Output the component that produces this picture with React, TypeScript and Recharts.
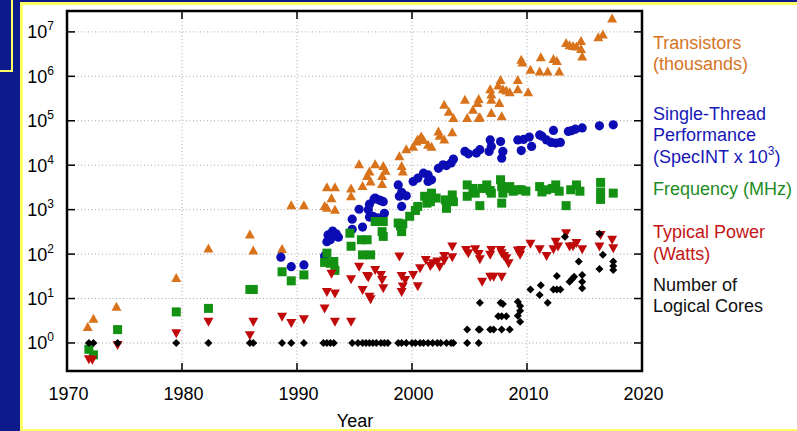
import React from 'react';
import { ScatterChart, Scatter, XAxis, YAxis, CartesianGrid, ReferenceArea } from 'recharts';

// ---- Data: [year, value] ----
const transistors: [number, number][] = [
  [1971.8, 2.3], [1972.3, 3.5], [1974.3, 6.5], [1979.5, 29], [1982.3, 134], [1985.9, 275], [1986.2, 120],
  [1988.7, 130], [1989.5, 1250], [1990.6, 1250], [1992.4, 1200], [1992.6, 1100], [1992.6, 3200], [1993.0, 1800],
  [1993.3, 3200], [1993.3, 1000], [1994.7, 3000], [1994.7, 2000], [1995.4, 10500], [1995.7, 3400], [1996.1, 5700],
  [1996.3, 7200], [1996.4, 4300], [1996.8, 10500], [1997.4, 5700], [1997.4, 3800], [1997.5, 9600], [1997.7, 7500],
  [1998.9, 16000], [1999.1, 9600], [1999.2, 7200], [1999.5, 23000], [2000.1, 26000], [2000.4, 34000], [2000.5, 38000],
  [2000.8, 44000], [2001.0, 37000], [2001.4, 29000], [2001.7, 26000], [2002.3, 57000], [2002.4, 46000], [2002.8, 38000],
  [2003.5, 55000], [2002.8, 230000], [2003.2, 160000], [2003.6, 115000], [2004.6, 296000], [2004.8, 115000],
  [2005.3, 178000], [2005.7, 250000], [2005.8, 310000], [2005.8, 115000], [2005.9, 120000], [2006.8, 510000],
  [2006.9, 390000], [2006.9, 296000], [2006.9, 150000], [2007.5, 620000], [2007.6, 250000], [2007.7, 830000],
  [2007.8, 126000], [2007.9, 510000], [2008.2, 480000], [2008.5, 440000], [2009.2, 830000], [2009.2, 510000],
  [2009.5, 2350000], [2009.6, 2050000], [2010.1, 440000], [2010.3, 1400000], [2011.1, 1290000], [2011.2, 2700000],
  [2011.8, 1290000], [2012.3, 2450000], [2012.6, 2200000], [2012.8, 1290000], [2013.4, 5600000], [2013.7, 5000000],
  [2014.0, 4800000], [2014.3, 4700000], [2014.7, 6200000], [2014.7, 4100000], [2014.8, 2800000], [2016.2, 7600000],
  [2016.6, 8700000], [2017.4, 20000000],
];

const singleThread: [number, number][] = [
  [1988.6, 85], [1989.5, 52], [1990.6, 57], [1992.4, 91], [1992.6, 190], [1992.7, 270], [1992.9, 210], [1993.1, 330],
  [1993.4, 285], [1993.6, 240], [1994.8, 610], [1994.8, 360], [1995.4, 1020], [1995.7, 405], [1996.2, 1000],
  [1996.3, 1330], [1996.3, 680], [1996.6, 710], [1996.7, 1730], [1996.8, 1820], [1997.0, 650], [1997.1, 1660],
  [1997.3, 590], [1997.3, 1590], [1997.5, 1510], [1997.6, 830], [1998.8, 3600], [1998.9, 2000], [1999.1, 2450],
  [1999.1, 1180], [1999.5, 2050], [2000.1, 4300], [2000.5, 5100], [2001.0, 6600], [2001.4, 6050], [2001.4, 4300],
  [2001.7, 4700], [2002.3, 8500], [2002.7, 10200], [2003.0, 9800], [2003.4, 11200], [2003.6, 13700], [2004.6, 20400],
  [2004.9, 18000], [2005.6, 18700], [2005.9, 22300], [2006.7, 20400], [2006.8, 37000], [2006.9, 26500],
  [2007.7, 34000], [2007.8, 14400], [2007.9, 20400], [2009.2, 37000], [2009.5, 21300], [2009.7, 38000],
  [2010.2, 43000], [2010.4, 26500], [2011.1, 48000], [2011.3, 45000], [2011.7, 37000], [2012.1, 32500],
  [2012.3, 60500], [2012.5, 31500], [2012.9, 32500], [2013.6, 57500], [2013.9, 60000], [2014.2, 64600],
  [2014.8, 69000], [2016.3, 77000], [2017.5, 81000],
];

const frequency: [number, number][] = [
  [1971.9, 0.72], [1972.3, 0.54], [1974.4, 2.0], [1979.5, 5.0], [1982.3, 6.0], [1985.9, 16], [1986.2, 16],
  [1988.7, 40], [1989.5, 25], [1990.6, 34], [1992.4, 65], [1992.6, 105], [1992.9, 62], [1993.2, 68], [1993.3, 43],
  [1994.6, 295], [1994.7, 150], [1995.6, 210], [1996.1, 210], [1995.7, 96], [1996.4, 96], [1996.8, 540],
  [1997.5, 540], [1997.4, 320], [1997.5, 250], [1998.8, 500], [1999.1, 320], [1999.0, 430], [1999.2, 480],
  [1999.8, 710], [2000.3, 960], [2000.5, 1180], [2001.1, 2000], [2001.3, 1400], [2001.6, 1510], [2001.7, 2350],
  [2002.1, 1820], [2002.9, 1660], [2003.0, 1070], [2003.5, 2140], [2003.6, 1510], [2004.8, 3600], [2004.8, 2000],
  [2005.3, 3000], [2005.5, 2350], [2005.9, 1230], [2006.1, 3000], [2006.5, 3600], [2006.8, 2700], [2006.9, 2350],
  [2007.7, 4700], [2007.8, 3300], [2007.9, 2350], [2007.8, 1400], [2008.2, 3000], [2008.5, 3300], [2008.8, 2600],
  [2009.2, 2800], [2009.5, 2800], [2009.9, 2600], [2011.1, 3300], [2011.3, 2500], [2011.7, 2800], [2012.2, 3000],
  [2012.5, 3600], [2012.8, 2600], [2013.4, 1230], [2013.8, 2800], [2014.3, 3600], [2014.6, 2600], [2016.4, 4100],
  [2016.4, 2500], [2016.4, 1700], [2017.5, 2350],
];

const power: [number, number][] = [
  [1971.9, 0.43], [1972.2, 0.42], [1974.4, 0.9], [1979.5, 1.65], [1982.3, 3.0], [1985.9, 1.5], [1986.2, 3.0],
  [1988.7, 3.9], [1989.5, 2.8], [1990.6, 3.4], [1992.4, 6], [1992.6, 14], [1993.0, 36], [1993.3, 13], [1993.3, 3.0],
  [1994.7, 3.0], [1994.7, 27], [1995.4, 52], [1995.7, 15.6], [1996.1, 32], [1996.2, 30], [1996.3, 11], [1996.4, 9.6],
  [1996.8, 44], [1997.3, 34], [1997.4, 26], [1997.5, 17], [1998.9, 88], [1999.1, 32], [1999.4, 26], [1999.1, 14],
  [1999.2, 18.6], [2000.1, 34], [2000.5, 19], [2000.7, 48], [2001.2, 74], [2001.6, 54], [2001.8, 62], [2002.2, 68],
  [2002.4, 52], [2002.8, 91], [2002.8, 72], [2003.5, 148], [2003.5, 85], [2004.7, 124], [2004.9, 105],
  [2005.5, 129], [2005.8, 100], [2005.9, 77], [2006.1, 24], [2006.8, 31], [2007.1, 31], [2007.8, 31],
  [2006.9, 124], [2006.8, 96], [2007.7, 124], [2007.8, 105], [2008.0, 91], [2008.2, 81], [2008.4, 62],
  [2009.2, 120], [2009.5, 124], [2009.4, 96], [2010.3, 170], [2011.1, 129], [2011.7, 91], [2012.5, 190],
  [2012.7, 148], [2012.3, 129], [2013.4, 295], [2013.7, 148], [2014.0, 150], [2014.3, 178], [2014.8, 129],
  [2016.4, 270], [2016.3, 148], [2017.4, 210], [2017.5, 135],
];

const cores: [number, number][] = [
  [1971.9, 1], [1972.3, 1], [1974.4, 1], [1979.5, 1], [1982.3, 1], [1985.9, 1], [1986.2, 1], [1988.7, 1],
  [1989.5, 1], [1990.6, 1], [1992.3, 1], [1992.6, 1], [1992.9, 1], [1993.2, 1], [1994.8, 1], [1995.3, 1],
  [1995.7, 1], [1996.0, 1], [1996.3, 1], [1996.6, 1], [1996.9, 1], [1997.3, 1], [1997.6, 1], [1997.9, 1],
  [1998.8, 1], [1999.1, 1], [1999.5, 1], [2000.0, 1], [2000.3, 1], [2000.7, 1], [2001.0, 1], [2001.4, 1],
  [2001.8, 1], [2002.2, 1], [2002.5, 1], [2003.0, 1], [2003.4, 1], [2003.6, 1], [2004.8, 1], [2005.8, 1],
  [2004.8, 2], [2005.8, 2], [2005.9, 2], [2006.8, 2], [2007.1, 2], [2007.8, 2], [2008.5, 2],
  [2007.5, 4], [2007.8, 4], [2008.2, 4], [2005.9, 8], [2007.7, 8], [2007.9, 7.5],
  [2009.2, 8.5], [2009.4, 6.8], [2009.4, 5.3], [2009.2, 4.1], [2009.4, 3.0],
  [2010.3, 16], [2011.1, 12], [2011.2, 20], [2011.8, 8], [2012.3, 16], [2012.6, 16], [2012.9, 16], [2012.6, 32],
  [2013.7, 24], [2013.9, 27], [2014.1, 31], [2014.5, 68], [2014.8, 34], [2014.8, 24], [2014.8, 17],
  [2013.3, 244], [2016.3, 288], [2016.6, 96], [2016.3, 46], [2017.5, 68], [2017.5, 54], [2017.5, 44],
];

const xTicks = [1970, 1980, 1990, 2000, 2010, 2020];
const yTicks = [1, 10, 100, 1000, 10000, 100000, 1000000, 10000000];
const yTickExponents = ['0', '1', '2', '3', '4', '5', '6', '7'];
const X_DOMAIN: [number, number] = [1970, 2020];
const Y_DOMAIN: [number, number] = [0.234, 2.95e7];

// ---- Layout ----
const W = 797;
const H = 431;
const PLOT_W = 575;
const PLOT_H = 360;
const FONT = '"Liberation Sans", Arial, Helvetica, sans-serif';

const C_ORANGE = '#d9731b';
const C_BLUE = '#0c0cb4';
const C_GREEN = '#139113';
const C_RED = '#c00a0a';
const C_BLACK = '#000000';

const toPts = (arr: [number, number][]) => arr.map(([x, y]) => ({ x, y }));

const TriUp = (p: any) => (
  <polygon points={`${p.cx},${p.cy - 5} ${p.cx - 5},${p.cy + 4} ${p.cx + 5},${p.cy + 4}`} fill={C_ORANGE} />
);
const TriDown = (p: any) => (
  <polygon points={`${p.cx - 5},${p.cy - 4} ${p.cx + 5},${p.cy - 4} ${p.cx},${p.cy + 5}`} fill={C_RED} />
);
const Dot = (p: any) => <circle cx={p.cx} cy={p.cy} r={4.6} fill={C_BLUE} />;
const Sq = (p: any) => <rect x={p.cx - 4.5} y={p.cy - 4.5} width={9} height={9} fill={C_GREEN} />;
const Diamond = (p: any) => (
  <polygon points={`${p.cx},${p.cy - 4} ${p.cx + 4},${p.cy} ${p.cx},${p.cy + 4} ${p.cx - 4},${p.cy}`} fill={C_BLACK} />
);

const Y_MARGIN = 13;
const YTick = (props: any) => {
  const { x, y, index } = props;
  const ax = x + Y_MARGIN;
  return (
    <g>
      <line x1={ax} x2={ax + 8} y1={y} y2={y} stroke="#000" strokeWidth={1.5} />
      <line x1={ax + PLOT_W - 8} x2={ax + PLOT_W} y1={y} y2={y} stroke="#000" strokeWidth={1.5} />
      <text x={x} y={y + 6.5} textAnchor="end" fontSize={18} fill="#000" fontFamily={FONT}>
        10<tspan dy={-8} fontSize={12}>{yTickExponents[index]}</tspan>
      </text>
    </g>
  );
};

const XTick = (props: any) => {
  const { x, y, payload } = props;
  return (
    <g>
      <line x1={x} x2={x} y1={y} y2={y - 8} stroke="#000" strokeWidth={1.5} />
      <line x1={x} x2={x} y1={y - PLOT_H} y2={y - PLOT_H + 8} stroke="#000" strokeWidth={1.5} />
      <text x={x + 1.5} y={y + 29} textAnchor="middle" fontSize={18} fill="#000" fontFamily={FONT}>
        {payload.value}
      </text>
    </g>
  );
};

const legend = [
  { color: '#d5741f', lines: [['Transistors', 49], ['(thousands)', 70]] },
  { color: '#1818b8', lines: [['Single-Thread', 120], ['Performance', 141]] },
  { color: '#1e8c1e', lines: [['Frequency (MHz)', 195]] },
  { color: '#c41616', lines: [['Typical Power', 238], ['(Watts)', 260]] },
  { color: '#111111', lines: [['Number of', 291], ['Logical Cores', 312]] },
];

export default function App() {
  return (
    <div style={{ position: 'absolute', left: 0, top: 0, width: W, height: H, background: '#0d1a8c', overflow: 'hidden' }}>
      <div style={{ position: 'absolute', left: -4, top: -4, width: 13, height: 72, border: '2.5px solid #ffff66' }} />
      <div style={{ position: 'absolute', left: 20, top: 2, width: 790, height: 424, border: '3px solid #ffff66', background: '#ffffff' }} />
      <div style={{ position: 'absolute', left: 0, top: 0 }}>
        <ScatterChart width={W} height={H} margin={{ top: 11, right: 155, left: 7, bottom: 0 }}>
          <CartesianGrid stroke="#a8a8a8" strokeDasharray="1 2.5" strokeWidth={1} />
          <XAxis
            type="number"
            dataKey="x"
            domain={X_DOMAIN}
            ticks={xTicks}
            allowDataOverflow
            height={60}
            axisLine={false}
            tickLine={false}
            tickSize={0}
            tickMargin={0}
            tick={<XTick />}
            interval={0}
          />
          <YAxis
            type="number"
            dataKey="y"
            scale="log"
            domain={Y_DOMAIN}
            ticks={yTicks}
            allowDataOverflow
            width={60}
            axisLine={false}
            tickLine={false}
            tickSize={0}
            tickMargin={Y_MARGIN}
            tick={<YTick />}
            interval={0}
          />
          <Scatter data={toPts(transistors)} shape={TriUp} isAnimationActive={false} />
          <Scatter data={toPts(singleThread)} shape={Dot} isAnimationActive={false} />
          <Scatter data={toPts(frequency)} shape={Sq} isAnimationActive={false} />
          <Scatter data={toPts(power)} shape={TriDown} isAnimationActive={false} />
          <Scatter data={toPts(cores)} shape={Diamond} isAnimationActive={false} />
          <ReferenceArea
            x1={X_DOMAIN[0]}
            x2={X_DOMAIN[1]}
            y1={Y_DOMAIN[0]}
            y2={Y_DOMAIN[1]}
            fill="none"
            fillOpacity={0}
            stroke="#000"
            strokeWidth={2.5}
            ifOverflow="visible"
          />
        </ScatterChart>
      </div>
      <svg width={W} height={H} style={{ position: 'absolute', left: 0, top: 0, pointerEvents: 'none' }}>
        {legend.map((g) =>
          g.lines.map(([t, y]) => (
            <text key={String(t)} x={653} y={Number(y)} fontSize={18} fill={g.color} fontFamily={FONT}>
              {t}
            </text>
          ))
        )}
        <text x={653} y={163} fontSize={18} fill="#1818b8" fontFamily={FONT}>
          (SpecINT x 10<tspan dy={-8} fontSize={12}>3</tspan><tspan dy={8}>)</tspan>
        </text>
        <text x={355} y={427} textAnchor="middle" fontSize={18} fill="#000" fontFamily={FONT}>
          Year
        </text>
      </svg>
    </div>
  );
}
